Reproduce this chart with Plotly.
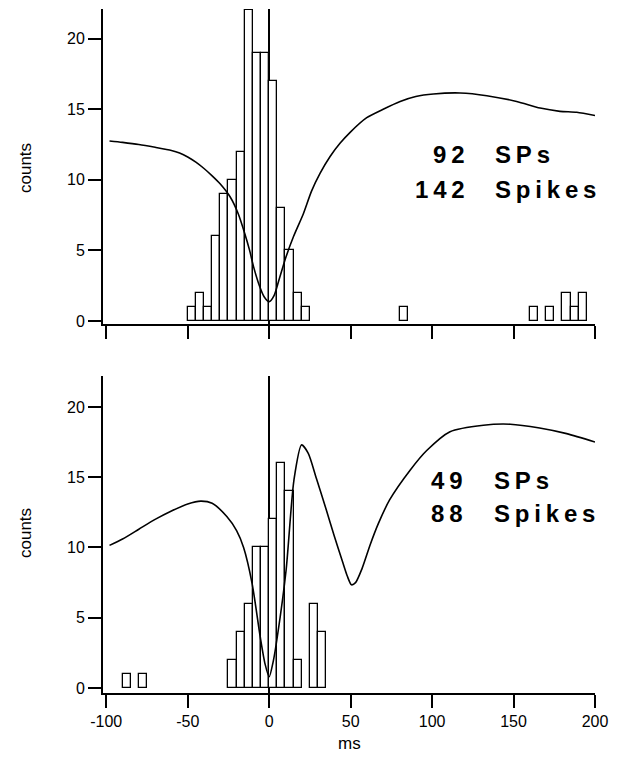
import plotly.graph_objects as go

# ---------------- data ----------------
bin_width = 5  # ms

top_bin_left = [-50, -45, -40, -35, -30, -25, -20, -15, -10, -5, 0, 5, 10, 15, 20,
                80, 160, 170, 180, 185, 190]
top_counts = [1, 2, 1, 6, 9, 10, 12, 22, 19, 19, 17, 8, 5, 2, 1,
              1, 1, 1, 2, 1, 2]

bot_bin_left = [-90, -80, -25, -20, -15, -10, -5, 0, 5, 10, 15, 25, 30]
bot_counts = [1, 1, 2, 4, 6, 10, 10, 12, 16, 14, 2, 6, 4]

top_curve_ms = [-98, -90, -80, -70, -60, -55, -50, -45, -40, -35, -30, -24, -19, -15, -12, -9.6, -6, -3, 0,
                3, 6, 10.4, 15, 21, 26, 31.3, 37.4, 43.6, 50, 59.9, 70, 80.4, 90, 100.8,
                117.2, 133.6, 151.9, 166.3, 178.5, 188.8, 200]
top_curve_val = [12.75, 12.65, 12.5, 12.3, 12.08, 11.9, 11.62, 11.25, 10.8, 10.28, 9.7, 8.8, 7.6, 6.2, 5.0,
                 3.85, 2.5, 1.7, 1.37,
                 1.8, 2.9, 4.56, 6.0, 7.6, 9.2, 10.47, 11.65, 12.6, 13.4, 14.4, 15.0, 15.55, 15.9, 16.08,
                 16.15, 15.96, 15.55, 15.08, 14.85, 14.78, 14.55]

bot_curve_ms = [-98, -90, -80, -70, -60, -50, -42, -35, -26, -20, -15.7, -10.5, -5.5, -2.5, 0,
                2.5, 5, 10.4, 15.2, 19.9, 24, 29, 35, 40, 45, 48, 50.5, 53, 57, 62, 67, 74, 86.5, 96.7,
                111, 131.5, 148, 166, 182.6, 200]
bot_curve_val = [10.15, 10.6, 11.3, 12.0, 12.6, 13.1, 13.3, 13.15, 12.2, 11.2, 10.0, 7.45, 3.65, 1.7, 0.8,
                 1.9, 3.65, 8.4, 14.8, 17.3, 16.7, 14.9, 12.7, 10.8, 9.0, 7.95, 7.35, 7.5, 8.5, 10.2, 11.7, 13.4,
                 15.5, 16.9, 18.24, 18.7, 18.77, 18.5, 18.1, 17.5]

x_ticks = [-100, -50, 0, 50, 100, 150, 200]
x_tick_text = ["-100", "-50", "0", "50", "100", "150", "200"]
y_ticks = [0, 5, 10, 15, 20]

top_label = ("92", "SPs")
top_label2 = ("142", "Spikes")
bot_label = ("49", "SPs")
bot_label2 = ("88", "Spikes")

# ---------------- figure ----------------
FONT = "Liberation Sans, Arial, Helvetica, sans-serif"
fig = go.Figure()

bar_style = dict(marker=dict(color="white", line=dict(color="black", width=1.3)),
                 width=bin_width, offset=0, showlegend=False, hoverinfo="skip")

fig.add_trace(go.Bar(x=top_bin_left, y=top_counts, xaxis="x", yaxis="y", **bar_style))
fig.add_trace(go.Bar(x=bot_bin_left, y=bot_counts, xaxis="x2", yaxis="y2", **bar_style))

line_style = dict(mode="lines", line=dict(color="black", width=1.6, shape="spline", smoothing=0.7),
                  showlegend=False, hoverinfo="skip")
fig.add_trace(go.Scatter(x=top_curve_ms, y=top_curve_val, xaxis="x", yaxis="y", **line_style))
fig.add_trace(go.Scatter(x=bot_curve_ms, y=bot_curve_val, xaxis="x2", yaxis="y2", **line_style))

tickfont = dict(family=FONT, size=16, color="black")
xcommon = dict(range=[-102, 200], domain=[103 / 628, 595 / 628], tickvals=x_ticks, ticktext=x_tick_text,
               showline=True, linecolor="black", linewidth=2, ticks="outside", ticklen=13,
               tickwidth=2, tickcolor="black", showgrid=False, zeroline=True,
               zerolinecolor="black", zerolinewidth=1.6, tickfont=tickfont, fixedrange=True,
               automargin=False)
ycommon = dict(tickvals=y_ticks, showline=True, linecolor="black", linewidth=2,
               ticks="outside", ticklen=13, tickwidth=2, tickcolor="black", showgrid=False,
               zeroline=False, tickfont=tickfont, fixedrange=True, automargin=False)

fig.update_layout(
    width=628, height=757, autosize=False,
    margin=dict(l=0, r=0, t=0, b=0, pad=0),
    paper_bgcolor="white", plot_bgcolor="white",
    bargap=0,
    xaxis=dict(anchor="y", showticklabels=False, **xcommon),
    yaxis=dict(anchor="x", domain=[(757 - 323.5) / 757, (757 - 9) / 757], range=[-0.18, 22.1], **ycommon),
    xaxis2=dict(anchor="y2", showticklabels=True, **xcommon),
    yaxis2=dict(anchor="x2", domain=[(757 - 692.7) / 757, (757 - 376) / 757], range=[-0.33, 22.2], **ycommon),
)

TS = "\u2009"
def spaced(s):
    return TS.join(list(s))

bold = dict(family=FONT, size=24, color="black", weight="bold")
ann = []
for (num, word), (xr, yr), yv in [
    (top_label, ("x", "y"), 11.8), (top_label2, ("x", "y"), 9.3),
    (bot_label, ("x2", "y2"), 14.75), (bot_label2, ("x2", "y2"), 12.4),
]:
    num_right = 121.3 if xr == "x" else 120.2
    word_left = 137.6 if xr == "x" else 136.6
    ann.append(dict(x=num_right, y=yv, xref=xr, yref=yr, text=spaced(num), showarrow=False,
                    xanchor="right", yanchor="middle", font=bold))
    ann.append(dict(x=word_left, y=yv, xref=xr, yref=yr, text=spaced(word), showarrow=False,
                    xanchor="left", yanchor="middle", font=bold))

labfont = dict(family=FONT, size=17, color="black")
ann.append(dict(x=25 / 628, y=(757 - 168) / 757, xref="paper", yref="paper", text="counts",
                textangle=-90, showarrow=False, xanchor="center", yanchor="middle", font=labfont))
ann.append(dict(x=25 / 628, y=(757 - 533) / 757, xref="paper", yref="paper", text="counts",
                textangle=-90, showarrow=False, xanchor="center", yanchor="middle", font=labfont))
ann.append(dict(x=349 / 628, y=(757 - 743) / 757, xref="paper", yref="paper", text="ms",
                showarrow=False, xanchor="center", yanchor="middle", font=labfont))
fig.update_layout(annotations=ann)

fig.write_html("out.html")
